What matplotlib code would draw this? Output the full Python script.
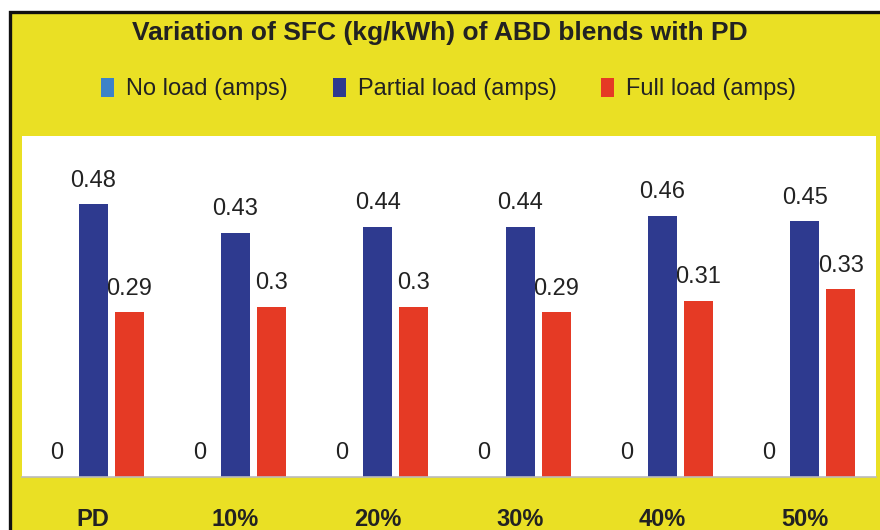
import matplotlib
matplotlib.use("Agg")
import matplotlib.pyplot as plt
from matplotlib.patches import Rectangle, Patch
import numpy as np

plt.rcParams['font.family'] = ['Liberation Sans', 'DejaVu Sans']

categories = ["PD", "10%", "20%", "30%", "40%", "50%"]
no_load = [0, 0, 0, 0, 0, 0]
partial_load = [0.48, 0.43, 0.44, 0.44, 0.46, 0.45]
full_load = [0.29, 0.3, 0.3, 0.29, 0.31, 0.33]
series_names = ["No load (amps)", "Partial load (amps)", "Full load (amps)"]
label_text = {
    "no": ["0"] * 6,
    "partial": ["0.48", "0.43", "0.44", "0.44", "0.46", "0.45"],
    "full": ["0.29", "0.3", "0.3", "0.29", "0.31", "0.33"],
}

YELLOW = "#EAE024"
C_NO = "#3C82C8"
C_PART = "#2E3A8F"
C_FULL = "#E53A25"

fig = plt.figure(figsize=(8.8, 5.3), dpi=100)
fig.patch.set_facecolor("white")
W, H = 880, 530
bg = Rectangle((10 / W, -0.05), (W + 20) / W, (H - 12) / H + 0.05, transform=fig.transFigure,
               facecolor=YELLOW, edgecolor="#111111", linewidth=2.4, zorder=-10)
fig.patches.append(bg)

ax = fig.add_axes([22 / W, 53 / H, (876 - 22) / W, (477 - 136) / H])
ax.set_facecolor("white")

x = np.arange(len(categories))
off = 0.253
bw = 0.205
b0 = ax.bar(x - off, no_load, bw, color=C_NO, zorder=2)
b1 = ax.bar(x, partial_load, bw, color=C_PART, zorder=2)
b2 = ax.bar(x + off, full_load, bw, color=C_FULL, zorder=2)

for bars, labs in ((b0, label_text["no"]), (b1, label_text["partial"]), (b2, label_text["full"])):
    for rect, lab in zip(bars, labs):
        ax.annotate(lab, (rect.get_x() + rect.get_width() / 2, rect.get_height()),
                    xytext=(0, 17), textcoords="offset points", ha="center", va="center",
                    fontsize=17, color="#222222", zorder=1,
                    bbox=dict(boxstyle="square,pad=0.2", fc="white", ec="none"))

ax.set_xlim(-0.5, 5.5)
ax.set_ylim(0, 0.6)
ax.set_yticks([])
ax.set_xticks(x)
ax.set_xticklabels(categories, fontsize=17, fontweight="bold", color="#222222")
ax.tick_params(axis="x", length=0, pad=22)
for s in ("top", "left", "right"):
    ax.spines[s].set_visible(False)
ax.spines["bottom"].set_color("#BBBBBB")
ax.spines["bottom"].set_linewidth(1.2)

fig.text(0.5, 1 - 33 / H, "Variation of SFC (kg/kWh) of ABD blends with PD",
         ha="center", va="center", fontsize=19, fontweight="bold", color="#222222")

handles = [Patch(facecolor=c) for c in (C_NO, C_PART, C_FULL)]
fig.legend(handles, series_names, loc="center", bbox_to_anchor=(0.51, 1 - 89 / H), ncol=3,
           frameon=False, handlelength=0.55, handleheight=0.9,
           handletextpad=0.5, columnspacing=1.9, labelcolor="#222222",
           prop=dict(size=17))

fig.savefig("out.png", dpi=100)
